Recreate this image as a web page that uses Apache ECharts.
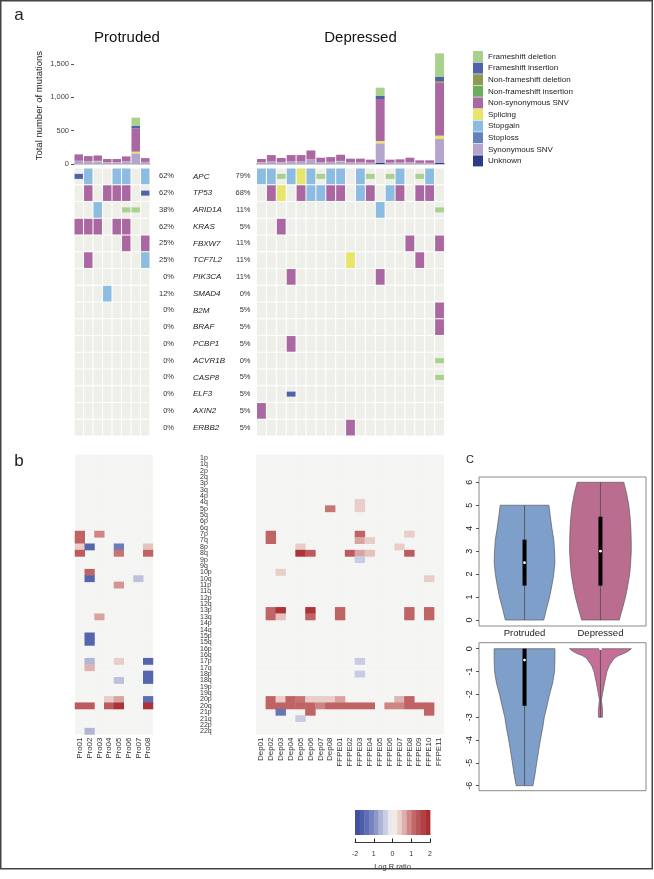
<!DOCTYPE html>
<html><head><meta charset="utf-8">
<script src="https://cdn.jsdelivr.net/npm/echarts@6/dist/echarts.min.js"></script>
<style>html,body{margin:0;padding:0;background:#fff}#c{width:654px;height:879px}</style>
</head><body><div id="c"></div>
<script>
// ---------- categories ----------
const proSamples = ['Pro01','Pro02','Pro03','Pro04','Pro05','Pro06','Pro07','Pro08'];
const depSamples = ['Dep01','Dep02','Dep03','Dep04','Dep05','Dep06','Dep07','Dep08','FFPE01','FFPE02','FFPE03','FFPE04','FFPE05','FFPE06','FFPE07','FFPE08','FFPE09','FFPE10','FFPE11'];
const genes = ['APC','TP53','ARID1A','KRAS','FBXW7','TCF7L2','PIK3CA','SMAD4','B2M','BRAF','PCBP1','ACVR1B','CASP8','ELF3','AXIN2','ERBB2'];
const proPct = ['62%','62%','38%','62%','25%','25%','0%','12%','0%','0%','0%','0%','0%','0%','0%','0%'];
const depPct = ['79%','68%','11%','5%','11%','11%','11%','0%','5%','5%','5%','0%','5%','5%','5%','5%'];
const mutationTypes = ['Frameshift deletion','Frameshift insertion','Non-frameshift deletion','Non-frameshift insertion','Non-synonymous SNV','Splicing','Stopgain','Stoploss','Synonymous SNV','Unknown'];
const mutationColors = ['#a9d18e','#4f63a8','#8e9a52','#6bae5c','#ab67a2','#e8e66a','#8cbce2','#6580bf','#b3a5cc','#2e3a88'];
const arms = ['1p','1q','2p','2q','3p','3q','4p','4q','5p','5q','6p','6q','7p','7q','8p','8q','9p','9q','10p','10q','11p','11q','12p','12q','13p','13q','14p','14q','15p','15q','16p','16q','17p','17q','18p','18q','19p','19q','20p','20q','21p','21q','22p','22q'];
const groupNames = ['Protruded','Depressed'];
const colorbarTickLabels = ['-2','1','0','1','2'];

// ---------- mutation counts (stacked bars) ----------
const proFsDel   = [1,1,1,0,0,1,125,1];
const proFsIns   = [0,0,1,0,0,0,35,0];
const proNfsDel  = [0,0,0,0,0,0,0,0];
const proNfsIns  = [0,0,0,0,0,0,0,0];
const proNonsyn  = [95,80,80,48,48,75,350,57];
const proSplice  = [2,2,6,1,1,2,25,1];
const proStopgain= [2,2,1,1,1,2,0,1];
const proStoploss= [0,0,0,0,0,0,0,0];
const proSyn     = [45,35,40,25,25,35,160,30];
const proUnknown = [0,0,0,0,0,0,0,0];

const depFsDel   = [0,1,0,1,1,2,1,1,1,0,0,0,125,0,0,1,0,0,355];
const depFsIns   = [0,0,0,0,0,0,0,0,0,0,0,0,45,0,0,0,0,0,60];
const depNfsDel  = [0,0,0,0,0,0,0,0,0,0,0,0,0,0,0,0,0,0,20];
const depNfsIns  = [0,0,0,0,0,0,0,0,0,0,0,0,0,0,0,0,0,0,0];
const depNonsyn  = [50,96,62,96,96,136,64,71,93,56,56,45,630,45,48,64,38,38,800];
const depSplice  = [2,1,2,1,1,5,1,1,4,1,1,1,35,1,1,1,1,1,50];
const depStopgain= [1,2,1,2,2,2,1,2,2,1,1,1,0,1,1,1,1,1,0];
const depStoploss= [0,0,0,0,0,0,0,0,0,0,0,0,0,0,0,0,0,0,0];
const depSyn     = [22,35,25,35,35,60,28,30,40,22,22,18,290,18,20,28,15,15,355];
const depUnknown = [0,0,0,0,0,0,0,0,0,0,0,0,20,0,0,0,0,0,20];

// ---------- oncoprint: [sample, gene, typeIndex] ----------
const proMutations = [
 [0,0,1],[1,0,6],[4,0,6],[5,0,6],[7,0,6],
 [1,1,4],[3,1,4],[4,1,4],[5,1,4],[7,1,1],
 [2,2,6],[5,2,0],[6,2,0],
 [0,3,4],[1,3,4],[2,3,4],[4,3,4],[5,3,4],
 [5,4,4],[7,4,4],
 [1,5,4],[7,5,6],
 [3,7,6]
];
const depMutations = [
 [0,0,6],[1,0,6],[2,0,0],[3,0,6],[4,0,5],[5,0,6],[6,0,0],[7,0,6],[8,0,6],[10,0,6],[11,0,0],[13,0,0],[14,0,6],[16,0,0],[17,0,6],
 [1,1,4],[2,1,5],[4,1,4],[5,1,6],[6,1,6],[7,1,4],[8,1,4],[10,1,6],[11,1,4],[13,1,6],[14,1,4],[16,1,4],[17,1,4],
 [12,2,6],[18,2,0],
 [2,3,4],
 [15,4,4],[18,4,4],
 [9,5,5],[16,5,4],
 [3,6,4],[12,6,4],
 [18,8,4],[18,9,4],[3,10,4],[18,11,0],[18,12,0],[3,13,1],[0,14,4],[9,15,4]
];

// ---------- copy number (log R ratio): [sample, arm, value] ----------
const proCNA = [
 [0,12,1.2],[0,13,1.2],[0,14,0.4],[0,15,1.3],[0,39,1.3],
 [1,14,-1.5],[1,18,1.2],[1,19,-1.5],[1,28,-1.5],[1,29,-1.5],[1,32,-0.6],[1,33,0.6],[1,39,1.3],[1,43,-0.6],
 [2,12,0.9],[2,25,0.7],
 [3,38,0.4],[3,39,1.3],
 [4,14,-1.2],[4,15,1.0],[4,20,0.8],[4,32,0.4],[4,35,-0.5],[4,38,0.7],[4,39,1.8],
 [6,19,-0.5],
 [7,14,0.5],[7,15,1.2],[7,32,-1.5],[7,34,-1.5],[7,35,-1.5],[7,38,-1.4],[7,39,1.8]
];
const depCNA = [
 [1,12,1.2],[1,13,1.2],[1,24,1.2],[1,25,1.2],[1,38,1.2],[1,39,1.2],
 [2,18,0.4],[2,24,1.8],[2,25,0.5],[2,38,0.4],[2,39,1.2],[2,40,-1.3],
 [3,38,1.2],[3,39,1.2],
 [4,14,0.4],[4,15,1.8],[4,38,1.0],[4,39,1.2],[4,41,-0.4],
 [5,15,1.3],[5,24,1.8],[5,25,1.2],[5,38,0.4],[5,39,1.2],[5,40,1.2],
 [6,38,0.4],[6,39,0.9],
 [7,8,1.0],[7,38,0.4],[7,39,1.2],
 [8,24,1.2],[8,25,1.2],[8,38,0.7],[8,39,1.2],
 [9,15,1.3],[9,39,1.2],
 [10,7,0.4],[10,8,0.4],[10,12,1.2],[10,13,0.7],[10,15,0.7],[10,16,-0.4],[10,32,-0.4],[10,34,-0.4],[10,39,1.2],
 [11,13,0.4],[11,15,0.5],[11,39,1.2],
 [13,39,0.9],
 [14,14,0.4],[14,38,0.6],[14,39,0.9],
 [15,12,0.4],[15,15,1.3],[15,24,1.2],[15,25,1.2],[15,38,1.2],[15,39,1.2],
 [16,39,1.2],
 [17,19,0.4],[17,24,1.2],[17,25,1.2],[17,39,1.2],[17,40,1.2]
];
const cnaColors = ['#3a4a9b','#5566ad','#7e8bc3','#bcc1dd','#f7f6f4','#e5c3bd','#c77475','#b34a4d','#a8242a'];
const colorbarSteps = [-1.875,-1.625,-1.375,-1.125,-0.875,-0.625,-0.375,-0.125,0.125,0.375,0.625,0.875,1.125,1.375,1.625,1.875];

// ---------- violin plots: profile [y, half-width], stats [min,q1,median,q3,max] ----------
const proUpperProfile = [[5,0.32],[4.5,0.34],[4,0.36],[3.5,0.385],[3,0.395],[2.5,0.40],[2,0.385],[1.5,0.36],[1,0.33],[0.5,0.29],[0,0.253]];
const depUpperProfile = [[6,0.307],[5.5,0.345],[5,0.373],[4.5,0.39],[4,0.40],[3.5,0.405],[3,0.406],[2.5,0.398],[2,0.385],[1.5,0.36],[1,0.33],[0.5,0.29],[0,0.248]];
const proLowerProfile = [[0,0.40],[-0.5,0.40],[-1,0.395],[-1.5,0.37],[-2,0.33],[-2.5,0.296],[-3,0.26],[-3.5,0.237],[-4,0.208],[-4.5,0.184],[-5,0.16],[-5.5,0.138],[-6,0.11]];
const depLowerProfile = [[0,0.408],[-0.1,0.37],[-0.2,0.316],[-0.3,0.24],[-0.4,0.19],[-0.5,0.165],[-0.75,0.115],[-1,0.086],[-1.5,0.053],[-2,0.026],[-2.25,0.013],[-2.5,0.022],[-2.75,0.028],[-3,0.026]];
const upperStats = [[0,1.5,2.5,3.5,5],[0,1.5,3,4.5,6]];
const lowerStats = [[-6,-2.5,-0.5,0,0],[-3,0,0,0,0]];
const violinColors = ['#7f9fcb','#bb6d8f'];
const violinLowerDepColor = '#c46e98';

// ---------- build ----------
const FONT = '"Liberation Sans", Arial, Helvetica, sans-serif';
const stackOrder = [9,8,7,6,5,4,3,2,1,0];
const proBars = [proFsDel,proFsIns,proNfsDel,proNfsIns,proNonsyn,proSplice,proStopgain,proStoploss,proSyn,proUnknown];
const depBars = [depFsDel,depFsIns,depNfsDel,depNfsIns,depNonsyn,depSplice,depStopgain,depStoploss,depSyn,depUnknown];

const series = [];
stackOrder.forEach(t => series.push({type:'bar', name:mutationTypes[t], stack:'pro', xAxisIndex:0, yAxisIndex:0, data:proBars[t], barCategoryGap:'10%', itemStyle:{color:mutationColors[t]}, silent:true}));
stackOrder.forEach(t => series.push({type:'bar', name:mutationTypes[t], stack:'dep', xAxisIndex:1, yAxisIndex:1, data:depBars[t], barCategoryGap:'10%', itemStyle:{color:mutationColors[t]}, silent:true}));

const ONCO_BG = '#eeefe8';
function oncoRender(params, api) {
  const t = api.value(2);
  const c = api.coord([api.value(0), api.value(1)]);
  const s = api.size([1, 1]);
  const w = s[0] - 1.1, hFull = s[1] - 1.1;
  const h = (t === 0 || t === 1) ? hFull * 0.32 : hFull;
  return {type:'rect', shape:{x:c[0]-w/2, y:c[1]-h/2, width:w, height:h}, style:{fill: t < 0 ? ONCO_BG : mutationColors[t]}};
}
function bgCells(samples) {
  const out = [];
  samples.forEach((s, i) => genes.forEach((g, j) => out.push([i, j, -1])));
  return out;
}
series.push({type:'custom', xAxisIndex:2, yAxisIndex:2, renderItem:oncoRender, encode:{x:0,y:1}, data:bgCells(proSamples), silent:true});
series.push({type:'custom', xAxisIndex:2, yAxisIndex:2, renderItem:oncoRender, encode:{x:0,y:1}, data:proMutations, silent:true});
series.push({type:'custom', xAxisIndex:3, yAxisIndex:3, renderItem:oncoRender, encode:{x:0,y:1}, data:bgCells(depSamples), silent:true});
series.push({type:'custom', xAxisIndex:3, yAxisIndex:3, renderItem:oncoRender, encode:{x:0,y:1}, data:depMutations, silent:true});

const heatIdx0 = series.length;
series.push({type:'heatmap', xAxisIndex:4, yAxisIndex:5, data:proCNA, silent:true});
series.push({type:'heatmap', xAxisIndex:5, yAxisIndex:6, data:depCNA, silent:true});

function violinRender(profile, fill, stats) {
  return function(params, api) {
    const cx = api.value(0);
    const pts = [];
    profile.forEach(p => pts.push(api.coord([cx + p[1], p[0]])));
    for (let i = profile.length - 1; i >= 0; i--) pts.push(api.coord([cx - profile[i][1], profile[i][0]]));
    const top = api.coord([cx, stats[4]]), bot = api.coord([cx, stats[0]]);
    const q3 = api.coord([cx, stats[3]]), q1 = api.coord([cx, stats[1]]), med = api.coord([cx, stats[2]]);
    const children = [
      {type:'polygon', shape:{points:pts}, style:{fill:fill, stroke:'#5a5a5a', lineWidth:0.7}},
      {type:'line', shape:{x1:top[0], y1:top[1], x2:bot[0], y2:bot[1]}, style:{stroke:'#555', lineWidth:0.9}}
    ];
    if (q1[1] - q3[1] > 0.5) children.push({type:'rect', shape:{x:q3[0]-2, y:q3[1], width:4, height:q1[1]-q3[1]}, style:{fill:'#000'}});
    children.push({type:'circle', shape:{cx:med[0], cy:med[1], r:1.4}, style:{fill:'#fff'}});
    return {type:'group', children:children};
  };
}
series.push({type:'custom', xAxisIndex:6, yAxisIndex:7, encode:{x:0,y:1}, data:[[1,0]], renderItem:violinRender(proUpperProfile, violinColors[0], upperStats[0]), silent:true});
series.push({type:'custom', xAxisIndex:6, yAxisIndex:7, encode:{x:0,y:1}, data:[[2,0]], renderItem:violinRender(depUpperProfile, violinColors[1], upperStats[1]), silent:true});
series.push({type:'custom', xAxisIndex:7, yAxisIndex:8, encode:{x:0,y:1}, data:[[1,0]], renderItem:violinRender(proLowerProfile, violinColors[0], lowerStats[0]), silent:true});
series.push({type:'custom', xAxisIndex:7, yAxisIndex:8, encode:{x:0,y:1}, data:[[2,0]], renderItem:violinRender(depLowerProfile, violinLowerDepColor, lowerStats[1]), silent:true});

const cbIdx = series.length;
series.push({type:'custom', xAxisIndex:8, yAxisIndex:9, encode:{x:0}, data:colorbarSteps.map(v => [v]), silent:true,
  renderItem: function(params, api) {
    const v = api.value(0);
    const a = api.coord([v - 0.125, 1]), b = api.coord([v + 0.125, 0]);
    return {type:'rect', shape:{x:a[0], y:a[1], width:b[0]-a[0]+0.4, height:b[1]-a[1]}, style:{fill:api.visual('color')}};
  }});

const hidden = {show:false};
const faintSplit = {show:true, interval:0, lineStyle:{color:'rgba(255,255,255,0.4)', width:0.5}};
const violinY = (vals) => ({axisLine:hidden, splitLine:hidden,
  axisTick:{show:true, length:3, customValues:vals, lineStyle:{color:'#555'}},
  axisLabel:{customValues:vals, rotate:90, fontSize:9, color:'#222', margin:5}});

const option = {
  animation:false,
  textStyle:{fontFamily:FONT},
  grid:[
    {left:74, top:47.33, width:76, height:116.67},
    {left:256.5, top:47.33, width:188, height:116.67},
    {left:74, top:168, width:76, height:268},
    {left:256.5, top:168, width:188, height:268},
    {left:75, top:454.7, width:78, height:279.8, show:true, backgroundColor:'#f4f4f2', borderWidth:0},
    {left:256, top:454.7, width:188, height:279.8, show:true, backgroundColor:'#f4f4f2', borderWidth:0},
    {left:479, top:477, width:167, height:149, show:true, borderColor:'#8a8a8a', borderWidth:1},
    {left:479, top:642.7, width:167, height:148, show:true, borderColor:'#8a8a8a', borderWidth:1},
    {left:355, top:810, width:75, height:25}
  ],
  xAxis:[
    {gridIndex:0, type:'category', data:proSamples, axisLine:{lineStyle:{color:'#bdbdbd', width:1.5}}, axisTick:hidden, axisLabel:hidden},
    {gridIndex:1, type:'category', data:depSamples, axisLine:{lineStyle:{color:'#bdbdbd', width:1.5}}, axisTick:hidden, axisLabel:hidden},
    {gridIndex:2, type:'category', data:proSamples, show:false},
    {gridIndex:3, type:'category', data:depSamples, show:false},
    {gridIndex:4, type:'category', data:proSamples, axisLine:hidden, axisTick:hidden, splitLine:faintSplit,
      axisLabel:{rotate:90, interval:0, fontSize:8, color:'#333', margin:3}},
    {gridIndex:5, type:'category', data:depSamples, axisLine:hidden, axisTick:hidden, splitLine:faintSplit,
      axisLabel:{rotate:90, interval:0, fontSize:8, color:'#333', margin:3}},
    {gridIndex:6, type:'value', min:0.4, max:2.6, axisLine:hidden, axisTick:hidden, splitLine:hidden,
      axisLabel:{customValues:[1,2], formatter:(v) => groupNames[Math.round(v)-1], fontSize:9.5, color:'#222', margin:2}},
    {gridIndex:7, type:'value', min:0.4, max:2.6, show:false},
    {gridIndex:8, type:'value', min:-2, max:2, interval:1, offset:7.5, splitLine:hidden,
      axisLine:{show:true, onZero:false, lineStyle:{color:'#222', width:0.9}},
      axisTick:{show:true, inside:true, length:4, lineStyle:{color:'#222', width:1}},
      axisLabel:{fontSize:7, color:'#333', margin:8, formatter:(v) => colorbarTickLabels[Math.round(v)+2]},
      name:'Log R ratio', nameLocation:'middle', nameGap:20, nameTextStyle:{fontSize:7.5, color:'#333'}}
  ],
  yAxis:[
    {gridIndex:0, type:'value', min:0, max:1750, axisLine:hidden, splitLine:hidden,
      axisTick:{show:true, length:3, customValues:[0,500,1000,1500], lineStyle:{color:'#555'}},
      axisLabel:{customValues:[0,500,1000,1500], fontSize:7.5, color:'#444', margin:5, formatter:(v) => v.toLocaleString('en-US')},
      name:'Total number of mutations', nameLocation:'middle', nameGap:30, nameTextStyle:{fontSize:9.5, color:'#222'}},
    {gridIndex:1, type:'value', min:0, max:1750, show:false},
    {gridIndex:2, type:'category', data:genes, inverse:true, position:'right', axisLine:hidden, axisTick:hidden,
      axisLabel:{interval:0, align:'right', margin:24, fontSize:7.5, color:'#333', formatter:(v, i) => proPct[i]}},
    {gridIndex:3, type:'category', data:genes, inverse:true, position:'left', axisLine:hidden, axisTick:hidden,
      axisLabel:{interval:0, align:'right', margin:6, fontSize:7.5, color:'#333', formatter:(v, i) => depPct[i]}},
    {gridIndex:2, type:'category', data:genes, inverse:true, position:'left', axisLine:hidden, axisTick:hidden,
      axisLabel:{interval:0, align:'left', margin:-119, fontSize:8, fontStyle:'italic', color:'#222'}},
    {gridIndex:4, type:'category', data:arms, inverse:true, position:'right', axisLine:hidden, axisTick:hidden, splitLine:faintSplit,
      axisLabel:{interval:0, align:'left', margin:47, fontSize:7, color:'#333'}},
    {gridIndex:5, type:'category', data:arms, inverse:true, axisLine:hidden, axisTick:hidden, axisLabel:hidden, splitLine:faintSplit},
    Object.assign({gridIndex:6, type:'value', min:-0.26, max:6.23}, violinY([0,1,2,3,4,5,6])),
    Object.assign({gridIndex:7, type:'value', min:-6.22, max:0.263}, violinY([0,-1,-2,-3,-4,-5,-6])),
    {gridIndex:8, type:'value', min:0, max:1, show:false}
  ],
  visualMap:[
    {type:'continuous', show:false, min:-2, max:2, dimension:2, seriesIndex:[heatIdx0, heatIdx0+1], inRange:{color:cnaColors}},
    {type:'continuous', show:false, min:-2, max:2, dimension:0, seriesIndex:[cbIdx], inRange:{color:cnaColors}}
  ],
  legend:{orient:'vertical', left:473, top:51, padding:0, itemWidth:10, itemHeight:11, itemGap:0.6, icon:'rect',
    selectedMode:false, data:mutationTypes, textStyle:{fontSize:8, color:'#222'}},
  graphic:[
    {type:'rect', shape:{x:0.75, y:0.75, width:651.5, height:868}, style:{fill:'none', stroke:'#444', lineWidth:1.5}, silent:true},
    {type:'text', x:19, y:15, style:{text:'a', fontSize:17, fontFamily:FONT, fill:'#222', align:'center', verticalAlign:'middle', textAlign:'center', textVerticalAlign:'middle'}},
    {type:'text', x:19, y:461, style:{text:'b', fontSize:17, fontFamily:FONT, fill:'#222', align:'center', verticalAlign:'middle', textAlign:'center', textVerticalAlign:'middle'}},
    {type:'text', x:470, y:460, style:{text:'C', fontSize:11, fontFamily:FONT, fill:'#222', align:'center', verticalAlign:'middle', textAlign:'center', textVerticalAlign:'middle'}},
    {type:'text', x:127, y:38, style:{text:'Protruded', fontSize:15, fontFamily:FONT, fill:'#111', align:'center', verticalAlign:'middle', textAlign:'center', textVerticalAlign:'middle'}},
    {type:'text', x:360.5, y:38, style:{text:'Depressed', fontSize:15, fontFamily:FONT, fill:'#111', align:'center', verticalAlign:'middle', textAlign:'center', textVerticalAlign:'middle'}}
  ],
  series:series
};
const chart = echarts.init(document.getElementById('c'), null, {renderer:'canvas'});
chart.setOption(option);
</script>
</body></html>
